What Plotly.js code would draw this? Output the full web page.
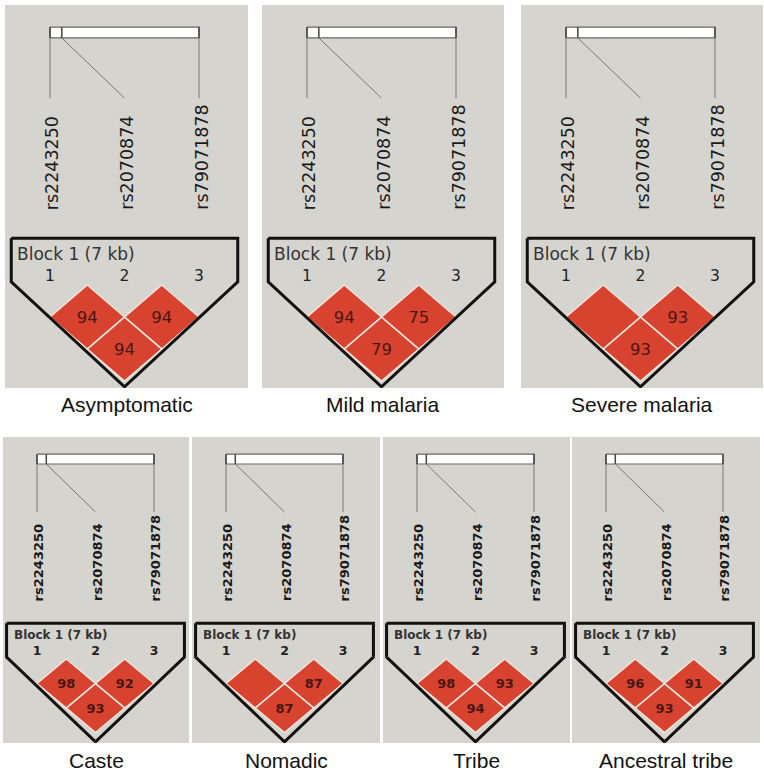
<!DOCTYPE html>
<html>
<head>
<meta charset="utf-8">
<script src="https://cdn.plot.ly/plotly-3.0.1.min.js"></script>
<style>html,body{margin:0;padding:0;background:#fff}</style>
</head>
<body>
<div id="chart" style="width:764px;height:772px"></div>
<script>
// markers of the block and their physical offsets (bp)
const snps = ['rs2243250', 'rs2070874', 'rs79071878'];
const snpPositions = [0, 556, 7000];
const blockLabel = 'Block 1 (7 kb)';

const groups = ['Asymptomatic', 'Mild malaria', 'Severe malaria', 'Caste', 'Nomadic', 'Tribe', 'Ancestral tribe'];
// D' (x100) per marker pair; 100 is left blank as in Haploview
const ld12 = [94, 94, 100, 98, 100, 98, 96];
const ld23 = [94, 75, 93, 92, 87, 93, 91];
const ld13 = [94, 79, 93, 93, 87, 94, 93];

const W = 764, H = 772;
const RED = '#d7432f';
const BG = '#d6d4ce';

// panel boxes in pixels
const panels = [
  { x0: 5, x1: 248, y0: 5, y1: 388, row: 'top' },
  { x0: 262, x1: 504, y0: 5, y1: 388, row: 'top' },
  { x0: 521, x1: 763, y0: 5, y1: 388, row: 'top' },
  { x0: 3, x1: 189, y0: 437, y1: 743, row: 'bottom' },
  { x0: 192, x1: 380, y0: 437, y1: 743, row: 'bottom' },
  { x0: 383, x1: 570, y0: 437, y1: 743, row: 'bottom' },
  { x0: 572, x1: 760, y0: 437, y1: 743, row: 'bottom' }
];

const rowStyle = {
  top: {
    unitX: 74.5, unitY: 64, m1: 45, diaTop: 280,
    barTop: -4.03, barBot: -3.86, lineEnd: -2.92, labelBase: -1.14,
    boxTop: -0.73, shoulder: -0.05, boxBot: 1.59, blockY: -0.48, blockX: 0.05, numY: -0.13,
    titleY: 404, weight: 'normal', fsSnp: 17.5, fsBlock: 17, fsNum: 15.5, fsVal: 16.5
  },
  bottom: {
    unitX: 58.5, unitY: 49, m1: 34, diaTop: 222,
    barTop: -4.18, barBot: -3.98, lineEnd: -3.0, labelBase: -1.14,
    boxTop: -0.73, shoulder: -0.04, boxBot: 1.69, blockY: -0.49, blockX: 0.1, numY: -0.14,
    titleY: 760, weight: 'bold', fsSnp: 13, fsBlock: 12, fsNum: 12.5, fsVal: 13
  }
};

const traces = [];
const annotations = [];
const layout = {
  width: W, height: H,
  margin: { l: 0, r: 0, t: 0, b: 0 },
  paper_bgcolor: '#ffffff',
  plot_bgcolor: BG,
  showlegend: false,
  font: { family: 'DejaVu Sans, sans-serif', color: '#222' }
};

const n = snps.length;
const posX = p => 1 + (p - snpPositions[0]) / (snpPositions[n - 1] - snpPositions[0]) * (n - 1);

panels.forEach((pn, k) => {
  const s = rowStyle[pn.row];
  const id = k === 0 ? '' : String(k + 1);
  const xa = 'x' + id, ya = 'y' + id;
  const w = pn.x1 - pn.x0, h = pn.y1 - pn.y0;
  const hidden = { showgrid: false, zeroline: false, showticklabels: false, ticks: '', showline: false, fixedrange: true };

  layout['xaxis' + id] = Object.assign({
    domain: [pn.x0 / W, pn.x1 / W],
    range: [1 - s.m1 / s.unitX, 1 + (w - s.m1) / s.unitX],
    anchor: ya
  }, hidden);
  layout['yaxis' + id] = Object.assign({
    domain: [1 - pn.y1 / H, 1 - pn.y0 / H],
    range: [(h - s.diaTop) / s.unitY, -s.diaTop / s.unitY],
    anchor: xa
  }, hidden);

  // gene bar
  traces.push({
    x: [1, n, n, 1, 1], y: [s.barTop, s.barTop, s.barBot, s.barBot, s.barTop],
    xaxis: xa, yaxis: ya, type: 'scatter', mode: 'lines', fill: 'toself',
    fillcolor: '#ffffff', line: { color: '#666', width: 1.2 }, hoverinfo: 'skip'
  });
  const tx = [], ty = [], cx = [], cy = [];
  snpPositions.forEach((p, i) => {
    tx.push(posX(p), posX(p), null); ty.push(s.barTop, s.barBot, null);
    cx.push(posX(p), i + 1, null); cy.push(s.barBot, s.lineEnd, null);
  });
  traces.push({
    x: tx, y: ty, xaxis: xa, yaxis: ya, type: 'scatter', mode: 'lines',
    line: { color: '#444', width: 1.5 }, hoverinfo: 'skip'
  });
  traces.push({
    x: cx, y: cy, xaxis: xa, yaxis: ya, type: 'scatter', mode: 'lines',
    line: { color: '#777', width: 1 }, hoverinfo: 'skip'
  });

  // LD diamonds
  const pairs = [[1, 2, ld12[k]], [2, 3, ld23[k]], [1, 3, ld13[k]]];
  const dx = [], dy = [], vx = [], vy = [], vt = [];
  pairs.forEach(([i, j, v]) => {
    const mx = (i + j) / 2, my = (j - i) / 2;
    dx.push(mx, mx + 0.5, mx, mx - 0.5, mx, null);
    dy.push(my - 0.5, my, my + 0.5, my, my - 0.5, null);
    vx.push(mx); vy.push(my + 0.03); vt.push(v < 100 ? String(v) : '');
  });
  traces.push({
    x: dx, y: dy, xaxis: xa, yaxis: ya, type: 'scatter', mode: 'lines',
    fill: 'toself', fillcolor: RED, line: { color: '#f4e4dc', width: 1.5 }, hoverinfo: 'skip'
  });
  traces.push({
    x: vx, y: vy, text: vt, xaxis: xa, yaxis: ya, type: 'scatter', mode: 'text',
    textposition: 'middle center', hoverinfo: 'skip',
    textfont: { family: 'DejaVu Sans', size: s.fsVal, color: '#4a1712', weight: s.weight }
  });

  // block outline
  const L = 1 - 0.52, R = n + 0.52;
  traces.push({
    x: [L, R, R, (1 + n) / 2, L, L],
    y: [s.boxTop, s.boxTop, s.shoulder, s.boxBot, s.shoulder, s.boxTop],
    xaxis: xa, yaxis: ya, type: 'scatter', mode: 'lines', cliponaxis: false,
    line: { color: '#111', width: 3 }, hoverinfo: 'skip'
  });

  // marker numbers
  traces.push({
    x: snps.map((_, i) => i + 1), y: snps.map(() => s.numY),
    text: snps.map((_, i) => String(i + 1)),
    xaxis: xa, yaxis: ya, type: 'scatter', mode: 'text', textposition: 'middle center',
    hoverinfo: 'skip',
    textfont: { family: 'DejaVu Sans', size: s.fsNum, color: '#222', weight: s.weight }
  });

  // SNP names
  snps.forEach((name, i) => {
    annotations.push({
      xref: xa, yref: ya, x: i + 1.03, y: s.labelBase, text: name, textangle: -90,
      showarrow: false, xanchor: 'center', yanchor: 'bottom',
      font: { family: 'DejaVu Sans', size: s.fsSnp, color: '#1a1a1a', weight: s.weight }
    });
  });

  annotations.push({
    xref: xa, yref: ya, x: L + s.blockX, y: s.blockY, text: blockLabel,
    showarrow: false, xanchor: 'left', yanchor: 'middle',
    font: { family: 'DejaVu Sans', size: s.fsBlock, color: '#333', weight: s.weight }
  });

  annotations.push({
    xref: 'paper', yref: 'paper', x: (pn.x0 + pn.x1) / 2 / W, y: 1 - s.titleY / H,
    text: groups[k], showarrow: false, xanchor: 'center', yanchor: 'middle',
    font: { family: 'Liberation Sans, Arial, sans-serif', size: 21, color: '#111' }
  });
});

layout.annotations = annotations;

Plotly.newPlot('chart', traces, layout, { displayModeBar: false, staticPlot: true });
</script>
</body>
</html>
